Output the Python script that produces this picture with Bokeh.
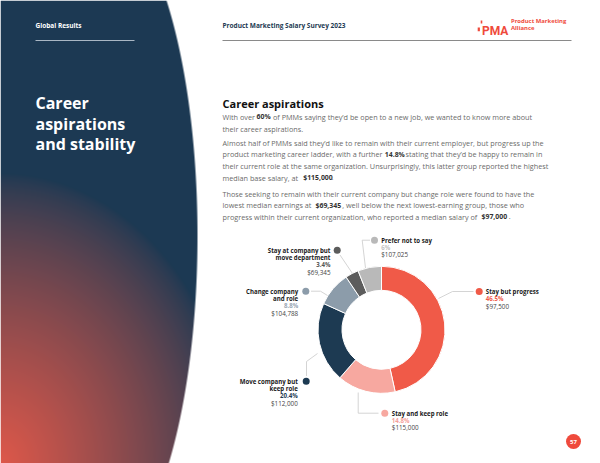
import numpy as np
from bokeh.plotting import figure
from bokeh.models import Range1d
from bokeh.core.properties import value
from bokeh.embed import file_html
from bokeh.resources import INLINE

# ---------------- data ----------------
categories = ["Stay but progress", "Stay and keep role", "Move company but keep role",
              "Change company and role", "Stay at company but move department", "Prefer not to say"]
shares = [46.5, 14.8, 20.4, 8.8, 3.4, 6.0]
share_labels = ["46.5%", "14.8%", "20.4%", "8.8%", "3.4%", "6%"]
salaries = ["$97,500", "$115,000", "$112,000", "$104,788", "$69,345", "$107,025"]
colors = ["#f05a48", "#f7a8a0", "#1d3a52", "#8c9caa", "#5c5c5c", "#b9b9b9"]
pct_colors = ["#f05a48", "#f4a09a", "#1d3a52", "#97a6b3", "#555555", "#c2c2c2"]

FONT = value("Open Sans")
PAGE_W, PAGE_H = 600, 463


def Y(py):
    return PAGE_H - py


p = figure(width=PAGE_W, height=PAGE_H, output_backend="svg", toolbar_location=None,
           x_range=Range1d(0, PAGE_W), y_range=Range1d(0, PAGE_H), min_border=0)
p.axis.visible = False
p.grid.visible = False
p.outline_line_color = None
p.background_fill_color = "white"
p.border_fill_color = "white"

# ---------------- left decorative panel (navy -> red gradient) ----------------
IW, IH = 200, 463
px = np.arange(IW) + 0.5
py_rows = PAGE_H - (np.arange(IH) + 0.5)
PX, PY = np.meshgrid(px, py_rows)
edge = 93 + 104 * np.sqrt(np.clip(1 - ((PY - 235) / 330) ** 2, 0, 1))
alpha = np.clip(edge - PX + 0.5, 0, 1)
d = np.sqrt((PX / 235) ** 2 + ((PAGE_H - PY) / 290) ** 2)
s = np.clip(1 - d, 0, 1) ** 0.75
navy = np.array([28, 57, 83])
red = np.array([222, 88, 74])
rgb = navy[None, None, :] * (1 - s[..., None]) + red[None, None, :] * s[..., None]
img = np.zeros((IH, IW), dtype=np.uint32)
view = img.view(dtype=np.uint8).reshape((IH, IW, 4))
view[..., 0] = rgb[..., 0].astype(np.uint8)
view[..., 1] = rgb[..., 1].astype(np.uint8)
view[..., 2] = rgb[..., 2].astype(np.uint8)
view[..., 3] = (alpha * 255).astype(np.uint8)
p.image_rgba(image=[img], x=0, y=0, dw=IW, dh=IH)

# ---------------- header ----------------
p.text(x=[35], y=[Y(25)], text=["Global Results"], text_font=FONT, text_font_size="6.5px",
       text_font_style="bold", text_color="white", text_baseline="middle")
p.line(x=[35, 134], y=[Y(40), Y(40)], line_color="#a9b7c4", line_width=1)
p.text(x=[222], y=[Y(25)], text=["Product Marketing Salary Survey 2023"], text_font=FONT,
       text_font_size="6.5px", text_font_style="bold", text_color="#1d3a52", text_baseline="middle")
p.line(x=[222, 571], y=[Y(40), Y(40)], line_color="#8a8a8a", line_width=1)

LOGO = "#ef4a3c"
p.text(x=[481.5], y=[Y(30.8)], text=["PMA"], text_font=value("Roboto"),
       text_font_size="12px", text_font_style="bold", text_color=LOGO, text_baseline="alphabetic")
p.rect(x=[478.3], y=[Y(28.8)], width=2.2, height=3.8, fill_color=LOGO, line_color=None)
p.rect(x=[481], y=[Y(21.5)], width=1.6, height=3.2, fill_color=LOGO, line_color=None)
p.text(x=[510.5], y=[Y(20.3)], text=["Product Marketing"], text_font=FONT,
       text_font_size="5.9px", text_font_style="bold", text_color=LOGO, text_baseline="middle")
p.text(x=[510.5], y=[Y(27.6)], text=["Alliance"], text_font=FONT,
       text_font_size="5.9px", text_font_style="bold", text_color=LOGO, text_baseline="middle")

# ---------------- left title ----------------
p.text(x=[35, 35, 35], y=[Y(102.5), Y(123), Y(143.5)], text=["Career", "aspirations", "and stability"],
       text_font=FONT, text_font_size="16px", text_font_style="bold", text_color="white",
       text_baseline="alphabetic")

# ---------------- right title & body ----------------
p.text(x=[222], y=[Y(103)], text=["Career aspirations"], text_font=FONT, text_font_size="11px",
       text_font_style="bold", text_color="#111111", text_baseline="alphabetic")

BODY = "#6a6a6a"
BOLD = "#333333"
body_lines = [
    (116, [("With over", False, 222), ("60%", True, 256),
           ("of PMMs saying they’d be open to a new job, we wanted to know more about", False, 272.5)]),
    (128, [("their career aspirations.", False, 222)]),
    (142, [("Almost half of PMMs said they’d like to remain with their current employer, but progress up the", False, 222)]),
    (153.5, [("product marketing career ladder, with a further", False, 222), ("14.8%", True, 384.3),
             ("stating that they’d be happy to remain in", False, 405)]),
    (165, [("their current role at the same organization. Unsurprisingly, this latter group reported the highest", False, 222)]),
    (177, [("median base salary, at", False, 222), ("$115,000", True, 302.7), (".", False, 331)]),
    (193, [("Those seeking to remain with their current company but change role were found to have the", False, 222)]),
    (204.5, [("lowest median earnings at", False, 222), ("$69,345", True, 315),
             (", well below the next lowest-earning group, those who", False, 341.7)]),
    (216, [("progress within their current organization, who reported a median salary of", False, 222),
           ("$97,000", True, 481), (".", False, 508.3)]),
]
for yy, segs in body_lines:
    for txt, bold, xx in segs:
        p.text(x=[xx], y=[Y(yy)], text=[txt], text_font=FONT,
               text_font_size="6.9px" if bold else "7.25px",
               text_font_style="bold" if bold else "normal",
               text_color=BOLD if bold else BODY, text_baseline="middle")

# ---------------- donut ----------------
CX, CY = 381, 329.3
R_OUT, R_IN = 63.5, 39.5
total = sum(shares)
cum = np.concatenate([[0], np.cumsum(shares)])
start = np.pi / 2 - cum[:-1] / total * 2 * np.pi
end = np.pi / 2 - cum[1:] / total * 2 * np.pi
p.annular_wedge(x=CX, y=Y(CY), inner_radius=R_IN, outer_radius=R_OUT,
                start_angle=list(start), end_angle=list(end), direction="clock",
                fill_color=colors, line_color="white", line_width=1)

# ---------------- labels (layout) ----------------
# name lines, anchor x, first-line y, align, marker (x,y), leader path
label_layout = [
    (["Stay but progress"], 485.3, 291, "left", (478.7, 291), [(473, 291), (452, 291), (438, 298)]),
    (["Stay and keep role"], 391.3, 412.7, "left", (384.3, 412.7), [(378, 412.7), (357.7, 412.7), (357.7, 392)]),
    (["Move company but", "keep role"], 297.3, 380.7, "right", (305.7, 380.7), [(306, 375.5), (306, 361), (317, 353)]),
    (["Change company", "and role"], 297.7, 290.7, "right", (305.3, 290.7), [(310.5, 290.7), (320, 290.7), (327, 295)]),
    (["Stay at company but", "move department"], 330, 249.7, "right", (336.7, 249.7), [(339.5, 254.5), (352, 273)]),
    (["Prefer not to say"], 380.7, 239.7, "left", (374, 239.7), [(369.5, 239.7), (361.7, 239.7), (365, 267.5)]),
]
LH = 7.3
for i, (names, ax, ay, align, (mx, my), path) in enumerate(label_layout):
    p.line(x=[q[0] for q in path], y=[Y(q[1]) for q in path], line_color="#c9c9c9", line_width=0.8)
    p.scatter(x=[mx], y=[Y(my)], size=7, marker="circle", fill_color=colors[i], line_color=None)
    yy = ay
    for nm in names:
        p.text(x=[ax], y=[Y(yy)], text=[nm], text_font=FONT, text_font_size="6.1px",
               text_font_style="bold", text_color="#1a1a1a", text_align=align, text_baseline="middle")
        yy += LH
    p.text(x=[ax], y=[Y(yy)], text=[share_labels[i]], text_font=FONT, text_font_size="6.1px",
           text_font_style="bold", text_color=pct_colors[i], text_align=align, text_baseline="middle")
    yy += LH
    p.text(x=[ax], y=[Y(yy)], text=[salaries[i]], text_font=FONT, text_font_size="6.3px",
           text_color="#444444", text_align=align, text_baseline="middle")

# ---------------- page number ----------------
p.scatter(x=[573], y=[Y(441)], size=15, marker="circle", fill_color=LOGO, line_color=None)
p.text(x=[573], y=[Y(441)], text=["57"], text_font=FONT, text_font_size="6px", text_font_style="bold",
       text_color="white", text_align="center", text_baseline="middle")

open("out.html", "w").write(file_html(p, INLINE))
